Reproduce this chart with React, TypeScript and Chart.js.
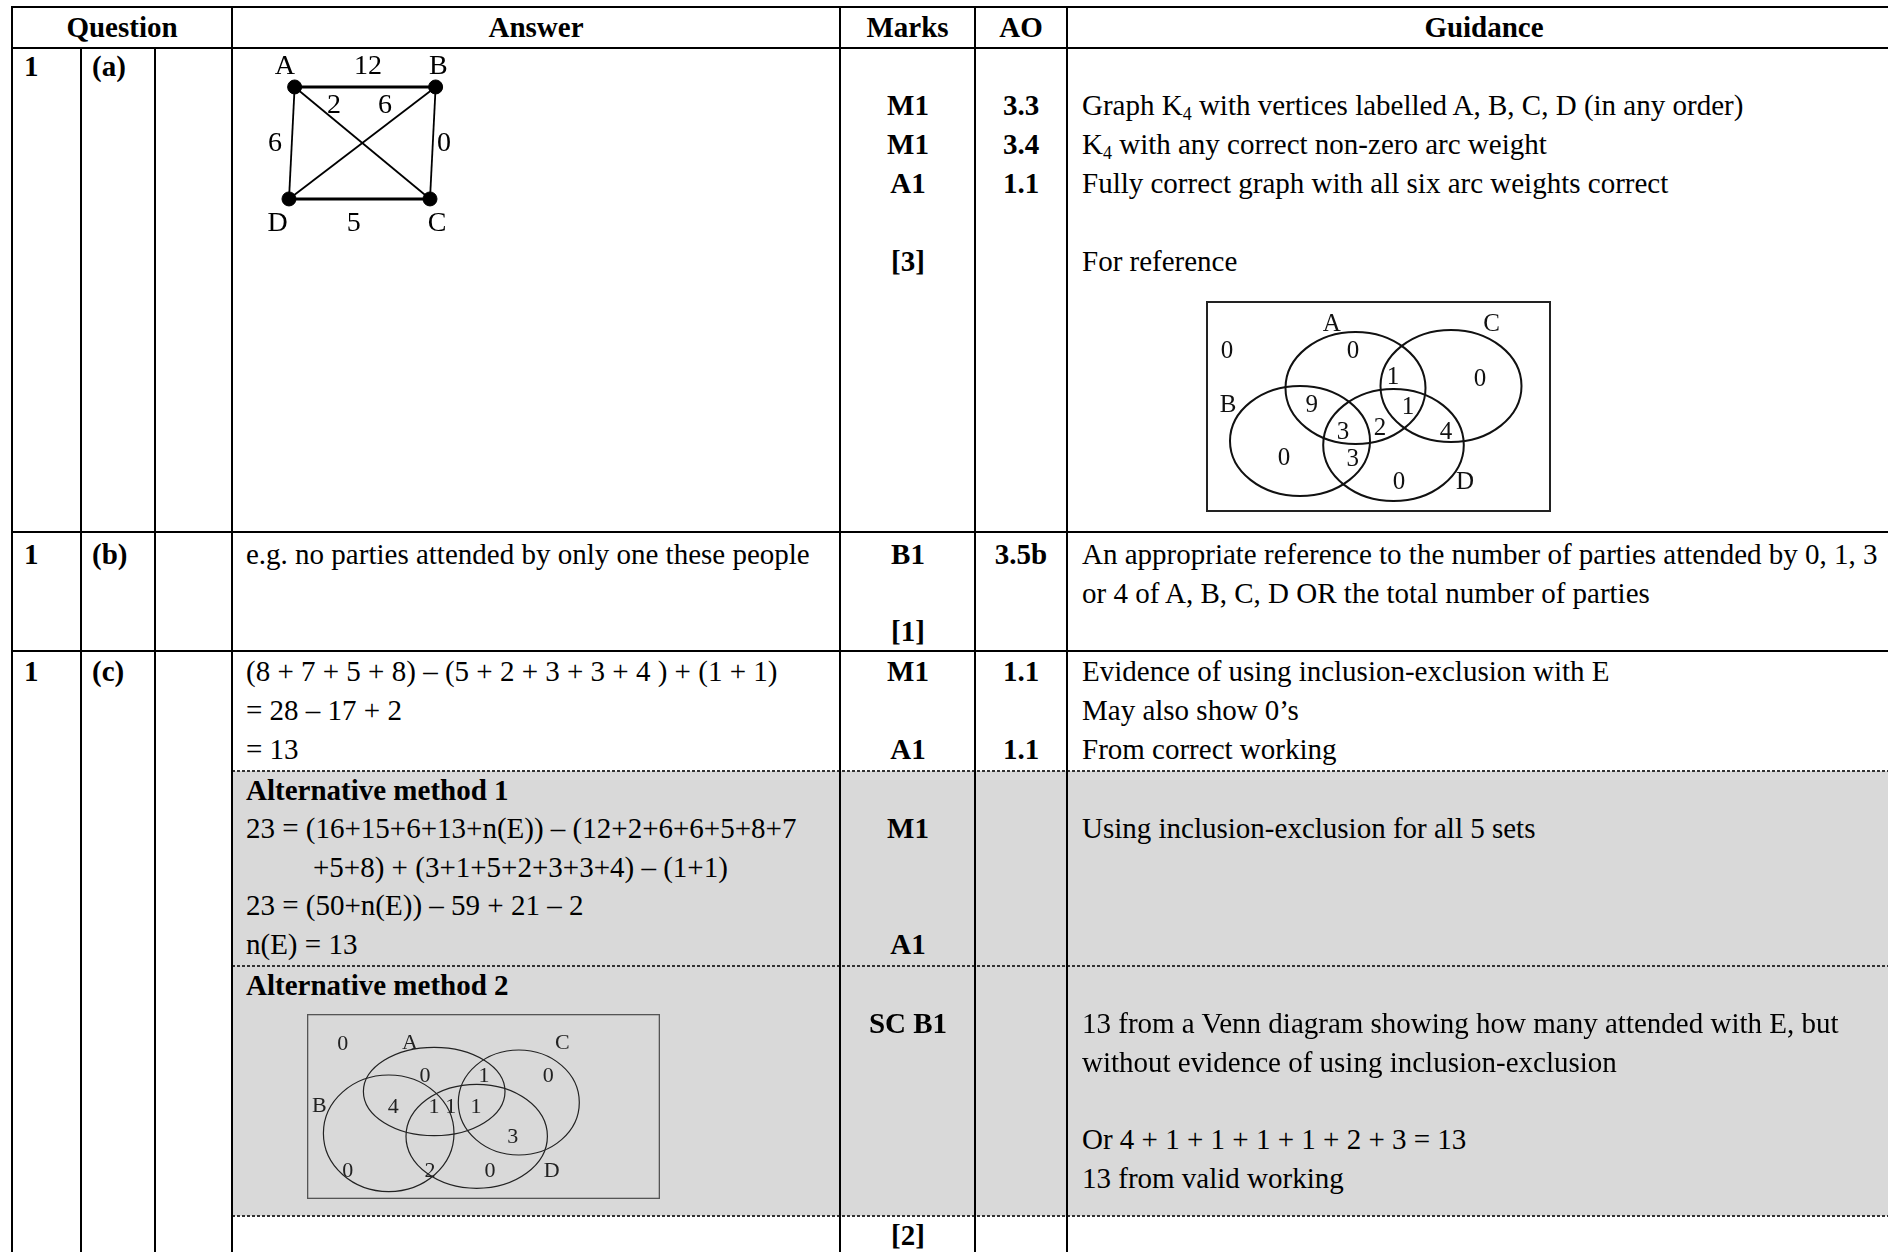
import React, { useEffect, useRef } from "react";
import { Chart, registerables } from "chart.js";
Chart.register(...registerables);

const FONT = '"Liberation Serif", "Times New Roman", serif';

// ---------- K4 graph (question 1a) ----------
const k4Vertices = ["A", "B", "C", "D"];
const k4VertexX = [0.04, 1.04, 1.0, 0.0];
const k4VertexY = [1, 1, 0, 0];
const k4Edges: [number, number][] = [[0, 1], [1, 2], [2, 3], [3, 0], [0, 2], [1, 3]];
const k4Weights = ["12", "0", "5", "6", "2", "6"];
const k4WeightX = [0.56, 1.1, 0.46, -0.1, 0.32, 0.68];
const k4WeightY = [1.19, 0.5, -0.21, 0.5, 0.84, 0.84];
const k4LabelX = [-0.03, 1.06, 1.05, -0.08];
const k4LabelY = [1.19, 1.19, -0.21, -0.21];

// ---------- Venn diagram for reference (sets A, B, C, D) ----------
const vennSets = ["A", "B", "C", "D"];
const venn1Cx = [149.5, 94, 245, 187.5];
const venn1Cy = [124, 71, 126, 67];
const venn1Rx = [70, 70, 70.5, 70.3];
const venn1Ry = [56, 55, 56, 56];
const venn1Text = ["A", "C", "0", "0", "1", "0", "B", "9", "1", "3", "2", "4", "0", "3", "0", "D"];
const venn1TextX = [125.7, 285.7, 21, 147, 187, 274, 22, 105.7, 202, 137, 174, 240, 78, 146.7, 193, 259];
const venn1TextY = [188.7, 188.7, 161.3, 161.3, 135.3, 134, 108, 108, 105.3, 80.3, 84.3, 80.3, 55, 54, 30.3, 30.3];

// ---------- Venn diagram for alternative method 2 ----------
const venn2Cx = [127.2, 81.7, 211.8, 169.7];
const venn2Cy = [107.5, 65.7, 96.5, 62.7];
const venn2Rx = [70.8, 65.3, 60.5, 70.7];
const venn2Ry = [44.2, 58.3, 52.5, 52];
const venn2Text = ["0", "A", "C", "0", "1", "0", "B", "4", "1", "1", "1", "3", "0", "2", "0", "D"];
const venn2TextX = [35.7, 103, 255.3, 118, 177, 241.3, 12.3, 86.3, 127, 143.7, 169, 205.7, 40.7, 123, 183, 244.7];
const venn2TextY = [155.7, 156.3, 156.3, 124, 124, 124, 94, 93, 93, 93, 93, 62.3, 29, 29, 29, 29];

const textPlugin = {
  id: "pointTexts",
  afterDatasetsDraw(chart: any) {
    const ctx = chart.ctx;
    chart.data.datasets.forEach((ds: any, di: number) => {
      if (!ds.texts) return;
      const meta = chart.getDatasetMeta(di);
      ctx.save();
      ctx.fillStyle = ds.textColor || "#000";
      ctx.font = ds.textFont;
      ctx.textAlign = "center";
      ctx.textBaseline = "middle";
      meta.data.forEach((el: any, i: number) => {
        ctx.fillText(ds.texts[i], el.x, el.y + 1);
      });
      ctx.restore();
    });
  },
};

const ellipsePlugin = {
  id: "vennEllipses",
  afterDatasetsDraw(chart: any) {
    const o = chart.options.plugins.vennEllipses;
    if (!o) return;
    const ctx = chart.ctx;
    const xs = chart.scales.x;
    const ys = chart.scales.y;
    ctx.save();
    ctx.strokeStyle = o.color;
    ctx.lineWidth = o.width;
    o.cx.forEach((cx: number, i: number) => {
      const px = xs.getPixelForValue(cx);
      const py = ys.getPixelForValue(o.cy[i]);
      const rx = Math.abs(xs.getPixelForValue(cx + o.rx[i]) - px);
      const ry = Math.abs(ys.getPixelForValue(o.cy[i] + o.ry[i]) - py);
      ctx.beginPath();
      ctx.ellipse(px, py, rx, ry, 0, 0, Math.PI * 2);
      ctx.stroke();
    });
    const a = chart.chartArea;
    ctx.strokeStyle = o.boxColor;
    ctx.lineWidth = o.boxWidth;
    const h = o.boxWidth / 2;
    ctx.strokeRect(a.left + h, a.top + h, a.right - a.left - o.boxWidth, a.bottom - a.top - o.boxWidth);
    ctx.restore();
  },
};

function baseOptions(xmin: number, xmax: number, ymin: number, ymax: number, extra: any = {}) {
  return {
    responsive: false,
    maintainAspectRatio: false,
    animation: false,
    events: [],
    layout: { padding: 0, autoPadding: false },
    scales: {
      x: { type: "linear", min: xmin, max: xmax, display: false },
      y: { type: "linear", min: ymin, max: ymax, display: false },
    },
    plugins: { legend: { display: false }, tooltip: { enabled: false }, ...extra },
  };
}

function ChartBox(props: { left: number; top: number; width: number; height: number; make: () => any }) {
  const ref = useRef<HTMLCanvasElement>(null);
  useEffect(() => {
    const chart = new Chart(ref.current as HTMLCanvasElement, props.make());
    return () => chart.destroy();
  }, []);
  return (
    <canvas
      ref={ref}
      width={props.width}
      height={props.height}
      style={{ position: "absolute", left: props.left, top: props.top, width: props.width, height: props.height }}
    />
  );
}

function makeK4() {
  const edgeSets = k4Edges.map(([a, b], i) => ({
    type: "line",
    data: [
      { x: k4VertexX[a], y: k4VertexY[a] },
      { x: k4VertexX[b], y: k4VertexY[b] },
    ],
    borderColor: "#000",
    borderWidth: i === 0 || i === 2 ? 3 : 1.8,
    pointRadius: 0,
    showLine: true,
    fill: false,
    clip: false,
  }));
  return {
    type: "scatter",
    data: {
      datasets: [
        ...edgeSets,
        {
          type: "scatter",
          data: k4Vertices.map((_, i) => ({ x: k4VertexX[i], y: k4VertexY[i] })),
          pointRadius: 7,
          backgroundColor: "#000",
          borderColor: "#000",
          clip: false,
        },
        {
          type: "scatter",
          data: k4Vertices.map((_, i) => ({ x: k4LabelX[i], y: k4LabelY[i] })),
          pointRadius: 0,
          texts: k4Vertices,
          textFont: `28px ${FONT}`,
        },
        {
          type: "scatter",
          data: k4Weights.map((_, i) => ({ x: k4WeightX[i], y: k4WeightY[i] })),
          pointRadius: 0,
          texts: k4Weights,
          textFont: `28px ${FONT}`,
        },
      ],
    },
    options: baseOptions(-0.3475, 1.4965, -0.438, 1.348),
    plugins: [textPlugin],
  };
}

function makeVenn(
  w: number, h: number, cx: number[], cy: number[], rx: number[], ry: number[],
  texts: string[], tx: number[], ty: number[], font: string, color: string, lw: number,
  boxColor: string, boxWidth: number
) {
  return () => ({
    type: "scatter",
    data: {
      labels: vennSets,
      datasets: [
        {
          data: texts.map((_, i) => ({ x: tx[i], y: ty[i] })),
          pointRadius: 0,
          texts,
          textFont: font,
          textColor: color,
        },
      ],
    },
    options: baseOptions(0, w, 0, h, {
      vennEllipses: { cx, cy, rx, ry, color, width: lw, boxColor, boxWidth },
    }),
    plugins: [ellipsePlugin, textPlugin],
  });
}

// ---------- table layout ----------
const LH = 39;
const FS = 29;

function T(p: { x: number; y: number; children: any; bold?: boolean; center?: boolean }) {
  const style: any = {
    position: "absolute",
    top: p.y - LH / 2,
    height: LH,
    lineHeight: LH + "px",
    fontSize: FS,
    fontFamily: FONT,
    fontWeight: p.bold ? "bold" : "normal",
    whiteSpace: "nowrap",
    color: "#000",
  };
  if (p.center) {
    style.left = p.x - 300;
    style.width = 600;
    style.textAlign = "center";
  } else {
    style.left = p.x;
  }
  return <div style={style}>{p.children}</div>;
}

const Sub = (p: { children: any }) => (
  <span style={{ fontSize: "0.62em", position: "relative", top: "0.3em" }}>{p.children}</span>
);

function HLine(p: { y: number; x1: number; x2: number; dashed?: boolean }) {
  const style: any = { position: "absolute", left: p.x1, top: p.y - 1, width: p.x2 - p.x1, height: 2 };
  if (p.dashed) {
    style.background = "repeating-linear-gradient(90deg, #333 0px, #333 3px, transparent 3px, transparent 5px)";
    style.height = 1.5;
  } else style.background = "#000";
  return <div style={style} />;
}
function VLine(p: { x: number; y1: number; y2: number }) {
  return <div style={{ position: "absolute", left: p.x - 1, top: p.y1, width: 2, height: p.y2 - p.y1, background: "#000" }} />;
}

const COLS = [12, 81, 155, 232, 840, 975, 1067, 1901];
const TOP = 7;
const MARKX = 908;
const AOX = 1021;
const ANSX = 246;
const GX = 1082;

export default function App() {
  return (
    <div style={{ position: "absolute", left: 0, top: 0, width: 1888, height: 1252, overflow: "hidden", background: "#fff" }}>
      {/* grey alternative-method area */}
      <div style={{ position: "absolute", left: 233, top: 771, width: 1700, height: 445, background: "#d9d9d9" }} />

      {/* lines */}
      <HLine y={TOP} x1={11} x2={1901} />
      <HLine y={48} x1={11} x2={1901} />
      <HLine y={532} x1={11} x2={1901} />
      <HLine y={651} x1={11} x2={1901} />
      <HLine y={771} x1={232} x2={1901} dashed />
      <HLine y={966} x1={232} x2={1901} dashed />
      <HLine y={1216} x1={232} x2={1901} dashed />
      <VLine x={COLS[0]} y1={TOP - 1} y2={1252} />
      <VLine x={COLS[1]} y1={48} y2={1252} />
      <VLine x={COLS[2]} y1={48} y2={1252} />
      <VLine x={COLS[3]} y1={TOP - 1} y2={1252} />
      <VLine x={COLS[4]} y1={TOP - 1} y2={1252} />
      <VLine x={COLS[5]} y1={TOP - 1} y2={1252} />
      <VLine x={COLS[6]} y1={TOP - 1} y2={1252} />

      {/* header */}
      <T x={(COLS[0] + COLS[3]) / 2} y={27} bold center>Question</T>
      <T x={(COLS[3] + COLS[4]) / 2} y={27} bold center>Answer</T>
      <T x={(COLS[4] + COLS[5]) / 2} y={27} bold center>Marks</T>
      <T x={(COLS[5] + COLS[6]) / 2} y={27} bold center>AO</T>
      <T x={(COLS[6] + COLS[7]) / 2} y={27} bold center>Guidance</T>

      {/* row (a) */}
      <T x={24} y={66} bold>1</T>
      <T x={92} y={66} bold>(a)</T>
      <ChartBox left={240} top={48} width={260} height={200} make={makeK4} />
      <T x={MARKX} y={105} bold center>M1</T>
      <T x={MARKX} y={144} bold center>M1</T>
      <T x={MARKX} y={183} bold center>A1</T>
      <T x={MARKX} y={261} bold center>[3]</T>
      <T x={AOX} y={105} bold center>3.3</T>
      <T x={AOX} y={144} bold center>3.4</T>
      <T x={AOX} y={183} bold center>1.1</T>
      <T x={GX} y={105}>Graph K<Sub>4</Sub> with vertices labelled A, B, C, D (in any order)</T>
      <T x={GX} y={144}>K<Sub>4</Sub> with any correct non-zero arc weight</T>
      <T x={GX} y={183}>Fully correct graph with all six arc weights correct</T>
      <T x={GX} y={261}>For reference</T>
      <ChartBox
        left={1206}
        top={301}
        width={345}
        height={211}
        make={makeVenn(345, 211, venn1Cx, venn1Cy, venn1Rx, venn1Ry, venn1Text, venn1TextX, venn1TextY, `25px ${FONT}`, "#111", 2, "#222", 2)}
      />

      {/* row (b) */}
      <T x={24} y={554} bold>1</T>
      <T x={92} y={554} bold>(b)</T>
      <T x={ANSX} y={554}>e.g. no parties attended by only one these people</T>
      <T x={MARKX} y={554} bold center>B1</T>
      <T x={MARKX} y={631} bold center>[1]</T>
      <T x={AOX} y={554} bold center>3.5b</T>
      <T x={GX} y={554}>An appropriate reference to the number of parties attended by 0, 1, 3</T>
      <T x={GX} y={593}>or 4 of A, B, C, D OR the total number of parties</T>

      {/* row (c) */}
      <T x={24} y={671} bold>1</T>
      <T x={92} y={671} bold>(c)</T>
      <T x={ANSX} y={671}>(8 + 7 + 5 + 8) – (5 + 2 + 3 + 3 + 4 ) + (1 + 1)</T>
      <T x={ANSX} y={710}>= 28 – 17 + 2</T>
      <T x={ANSX} y={749}>= 13</T>
      <T x={MARKX} y={671} bold center>M1</T>
      <T x={MARKX} y={749} bold center>A1</T>
      <T x={AOX} y={671} bold center>1.1</T>
      <T x={AOX} y={749} bold center>1.1</T>
      <T x={GX} y={671}>Evidence of using inclusion-exclusion with E</T>
      <T x={GX} y={710}>May also show 0’s</T>
      <T x={GX} y={749}>From correct working</T>

      {/* alternative method 1 */}
      <T x={ANSX} y={790} bold>Alternative method 1</T>
      <T x={ANSX} y={828}>23 = (16+15+6+13+n(E)) – (12+2+6+6+5+8+7</T>
      <T x={313} y={867}>+5+8) + (3+1+5+2+3+3+4) – (1+1)</T>
      <T x={ANSX} y={905}>23 = (50+n(E)) – 59 + 21 – 2</T>
      <T x={ANSX} y={944}>n(E) = 13</T>
      <T x={MARKX} y={828} bold center>M1</T>
      <T x={MARKX} y={944} bold center>A1</T>
      <T x={GX} y={828}>Using inclusion-exclusion for all 5 sets</T>

      {/* alternative method 2 */}
      <T x={ANSX} y={985} bold>Alternative method 2</T>
      <ChartBox
        left={307}
        top={1014}
        width={353}
        height={185}
        make={makeVenn(353, 185, venn2Cx, venn2Cy, venn2Rx, venn2Ry, venn2Text, venn2TextX, venn2TextY, `22px ${FONT}`, "#222", 1.2, "#555", 1.3)}
      />
      <T x={MARKX} y={1023} bold center>SC B1</T>
      <T x={GX} y={1023}>13 from a Venn diagram showing how many attended with E, but</T>
      <T x={GX} y={1062}>without evidence of using inclusion-exclusion</T>
      <T x={GX} y={1139}>Or 4 + 1 + 1 + 1 + 1 + 2 + 3 = 13</T>
      <T x={GX} y={1178}>13 from valid working</T>

      {/* final marks row */}
      <T x={MARKX} y={1235} bold center>[2]</T>
    </div>
  );
}
